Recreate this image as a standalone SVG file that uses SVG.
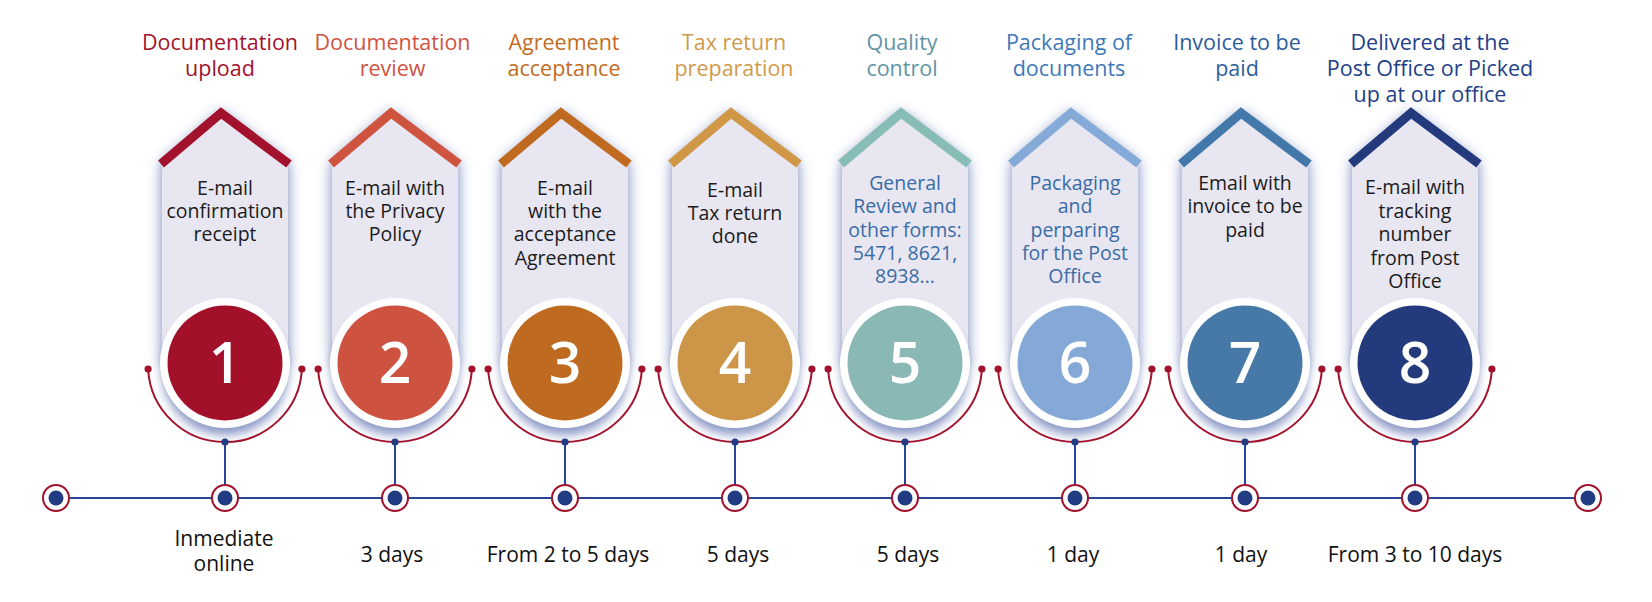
<svg xmlns="http://www.w3.org/2000/svg" width="1652" height="602" viewBox="0 0 1652 602">
<style>
text{font-family:"Open Sans","Liberation Sans",sans-serif;text-anchor:middle}
.t{font-size:21.5px}
.p{font-size:19.5px;fill:#1c1c1c}
.pb{font-size:19.5px;fill:#3a6ca6}
.b{font-size:21px;fill:#111}
.d{font-size:57px;font-weight:600;fill:#fff}
.sh{fill:#6577b3;opacity:.9}
.csh{fill:#6577b3;opacity:.75}
.panel{fill:#e7e6f1}
.roof{fill:none;stroke-width:9;stroke-linejoin:miter;stroke-miterlimit:10}
.ring{fill:#fff}
.arc{fill:none;stroke:#a3122c;stroke-width:2}
.ad{fill:#a3122c}
.bd{fill:#213c82}
.tl{stroke:#2b4596;stroke-width:2;fill:none}
.tr{fill:#fff;stroke:#a3122c;stroke-width:2}
</style>
<defs>
<filter id="blur" x="-40%" y="-40%" width="180%" height="180%"><feGaussianBlur stdDeviation="7"/></filter>
<filter id="blur2" x="-40%" y="-40%" width="180%" height="180%"><feGaussianBlur stdDeviation="5"/></filter>
<g id="base">
<polygon class="sh" filter="url(#blur)" points="-63,163 -4,112 63,163 63,366 -63,366"/>
<polygon class="panel" points="-63,163 -4,113 63,163 63,372 -63,372"/>
</g>
<g id="disc">
<circle class="csh" filter="url(#blur2)" cx="0" cy="372" r="63"/>
<circle class="ring" cx="0" cy="363" r="65"/>
</g>
<g id="arc">
<path class="arc" d="M-76.9,369 A77,77 0 0 0 76.9,369"/>
<circle class="ad" cx="-76.9" cy="369" r="3.6"/>
<circle class="ad" cx="76.9" cy="369" r="3.6"/>
<circle class="bd" cx="0" cy="442" r="3.6"/>
</g>
</defs>

<g id="connectors">
<line class="tl" x1="56" y1="498" x2="1588" y2="498"/>
<line class="tl" x1="225" y1="442" x2="225" y2="498"/>
<line class="tl" x1="395" y1="442" x2="395" y2="498"/>
<line class="tl" x1="565" y1="442" x2="565" y2="498"/>
<line class="tl" x1="735" y1="442" x2="735" y2="498"/>
<line class="tl" x1="905" y1="442" x2="905" y2="498"/>
<line class="tl" x1="1075" y1="442" x2="1075" y2="498"/>
<line class="tl" x1="1245" y1="442" x2="1245" y2="498"/>
<line class="tl" x1="1415" y1="442" x2="1415" y2="498"/>
<g id="timeline-dots">
<circle class="tr" cx="56" cy="498" r="13"/><circle class="bd" cx="56" cy="498" r="7.5"/>
<circle class="tr" cx="225" cy="498" r="13"/><circle class="bd" cx="225" cy="498" r="7.5"/>
<circle class="tr" cx="395" cy="498" r="13"/><circle class="bd" cx="395" cy="498" r="7.5"/>
<circle class="tr" cx="565" cy="498" r="13"/><circle class="bd" cx="565" cy="498" r="7.5"/>
<circle class="tr" cx="735" cy="498" r="13"/><circle class="bd" cx="735" cy="498" r="7.5"/>
<circle class="tr" cx="905" cy="498" r="13"/><circle class="bd" cx="905" cy="498" r="7.5"/>
<circle class="tr" cx="1075" cy="498" r="13"/><circle class="bd" cx="1075" cy="498" r="7.5"/>
<circle class="tr" cx="1245" cy="498" r="13"/><circle class="bd" cx="1245" cy="498" r="7.5"/>
<circle class="tr" cx="1415" cy="498" r="13"/><circle class="bd" cx="1415" cy="498" r="7.5"/>
<circle class="tr" cx="1588" cy="498" r="13"/><circle class="bd" cx="1588" cy="498" r="7.5"/>
</g>
</g>

<g id="step1" transform="translate(225,0)">
<use href="#base"/>
<polyline class="roof" stroke="#a3122c" points="-64,164 -4,113 64,164"/>
<use href="#disc"/>
<circle cx="0" cy="363" r="57.5" fill="#a3102a"/>
<text class="d" x="0" y="383">1</text>
<use href="#arc"/>
<text class="t" fill="#a3122c" x="-5" y="50">Documentation</text>
<text class="t" fill="#a3122c" x="-5" y="76">upload</text>
<text class="p" x="0" y="195">E-mail</text>
<text class="p" x="0" y="218">confirmation</text>
<text class="p" x="0" y="241">receipt</text>
<text class="b" x="-1" y="546">Inmediate</text>
<text class="b" x="-1" y="571">online</text>
</g>

<g id="step2" transform="translate(395,0)">
<use href="#base"/>
<polyline class="roof" stroke="#cf5440" points="-64,164 -4,113 64,164"/>
<use href="#disc"/>
<circle cx="0" cy="363" r="57.5" fill="#cd5240"/>
<text class="d" x="0" y="383">2</text>
<use href="#arc"/>
<text class="t" fill="#d0533f" x="-2.5" y="50">Documentation</text>
<text class="t" fill="#d0533f" x="-2.5" y="76">review</text>
<text class="p" x="0" y="195">E-mail with</text>
<text class="p" x="0" y="218">the Privacy</text>
<text class="p" x="0" y="241">Policy</text>
<text class="b" x="-3" y="562">3 days</text>
</g>

<g id="step3" transform="translate(565,0)">
<use href="#base"/>
<polyline class="roof" stroke="#c06a20" points="-64,164 -4,113 64,164"/>
<use href="#disc"/>
<circle cx="0" cy="363" r="57.5" fill="#bf6a21"/>
<text class="d" x="0" y="383">3</text>
<use href="#arc"/>
<text class="t" fill="#c26c22" x="-1" y="50">Agreement</text>
<text class="t" fill="#c26c22" x="-1" y="76">acceptance</text>
<text class="p" x="0" y="195">E-mail</text>
<text class="p" x="0" y="218">with the</text>
<text class="p" x="0" y="241">acceptance</text>
<text class="p" x="0" y="265">Agreement</text>
<text class="b" x="3" y="562">From 2 to 5 days</text>
</g>

<g id="step4" transform="translate(735,0)">
<use href="#base"/>
<polyline class="roof" stroke="#cf9746" points="-64,164 -4,113 64,164"/>
<use href="#disc"/>
<circle cx="0" cy="363" r="57.5" fill="#cc9547"/>
<text class="d" x="0" y="383">4</text>
<use href="#arc"/>
<text class="t" fill="#d09a4c" x="-1" y="50">Tax return</text>
<text class="t" fill="#d09a4c" x="-1" y="76">preparation</text>
<text class="p" x="0" y="197">E-mail</text>
<text class="p" x="0" y="220">Tax return</text>
<text class="p" x="0" y="243">done</text>
<text class="b" x="3" y="562">5 days</text>
</g>

<g id="step5" transform="translate(905,0)">
<use href="#base"/>
<polyline class="roof" stroke="#88bcb7" points="-64,164 -4,113 64,164"/>
<use href="#disc"/>
<circle cx="0" cy="363" r="57.5" fill="#8ab8b4"/>
<text class="d" x="0" y="383">5</text>
<use href="#arc"/>
<text class="t" fill="#5f95a6" x="-3" y="50">Quality</text>
<text class="t" fill="#5f95a6" x="-3" y="76">control</text>
<text class="pb" x="0" y="190">General</text>
<text class="pb" x="0" y="213">Review and</text>
<text class="pb" x="0" y="237">other forms:</text>
<text class="pb" x="0" y="260">5471, 8621,</text>
<text class="pb" x="0" y="283">8938...</text>
<text class="b" x="3" y="562">5 days</text>
</g>

<g id="step6" transform="translate(1075,0)">
<use href="#base"/>
<polyline class="roof" stroke="#85aad8" points="-64,164 -4,113 64,164"/>
<use href="#disc"/>
<circle cx="0" cy="363" r="57.5" fill="#84a9d6"/>
<text class="d" x="0" y="383">6</text>
<use href="#arc"/>
<text class="t" fill="#3f78b8" x="-6" y="50">Packaging of</text>
<text class="t" fill="#3f78b8" x="-6" y="76">documents</text>
<text class="pb" x="0" y="190">Packaging</text>
<text class="pb" x="0" y="213">and</text>
<text class="pb" x="0" y="237">perparing</text>
<text class="pb" x="0" y="260">for the Post</text>
<text class="pb" x="0" y="283">Office</text>
<text class="b" x="-2" y="562">1 day</text>
</g>

<g id="step7" transform="translate(1245,0)">
<use href="#base"/>
<polyline class="roof" stroke="#4379aa" points="-64,164 -4,113 64,164"/>
<use href="#disc"/>
<circle cx="0" cy="363" r="57.5" fill="#4779a8"/>
<text class="d" x="0" y="383">7</text>
<use href="#arc"/>
<text class="t" fill="#2d5e9c" x="-8" y="50">Invoice to be</text>
<text class="t" fill="#2d5e9c" x="-8" y="76">paid</text>
<text class="p" x="0" y="190">Email with</text>
<text class="p" x="0" y="213">invoice to be</text>
<text class="p" x="0" y="237">paid</text>
<text class="b" x="-4" y="562">1 day</text>
</g>

<g id="step8" transform="translate(1415,0)">
<use href="#base"/>
<polyline class="roof" stroke="#233b7d" points="-64,164 -4,113 64,164"/>
<use href="#disc"/>
<circle cx="0" cy="363" r="57.5" fill="#233a7c"/>
<text class="d" x="0" y="383">8</text>
<use href="#arc"/>
<text class="t" fill="#1f3f8a" x="15" y="50">Delivered at the</text>
<text class="t" fill="#1f3f8a" x="15" y="76">Post Office or Picked</text>
<text class="t" fill="#1f3f8a" x="15" y="102">up at our office</text>
<text class="p" x="0" y="194">E-mail with</text>
<text class="p" x="0" y="218">tracking</text>
<text class="p" x="0" y="241">number</text>
<text class="p" x="0" y="265">from Post</text>
<text class="p" x="0" y="288">Office</text>
<text class="b" x="0" y="562">From 3 to 10 days</text>
</g>
</svg>
